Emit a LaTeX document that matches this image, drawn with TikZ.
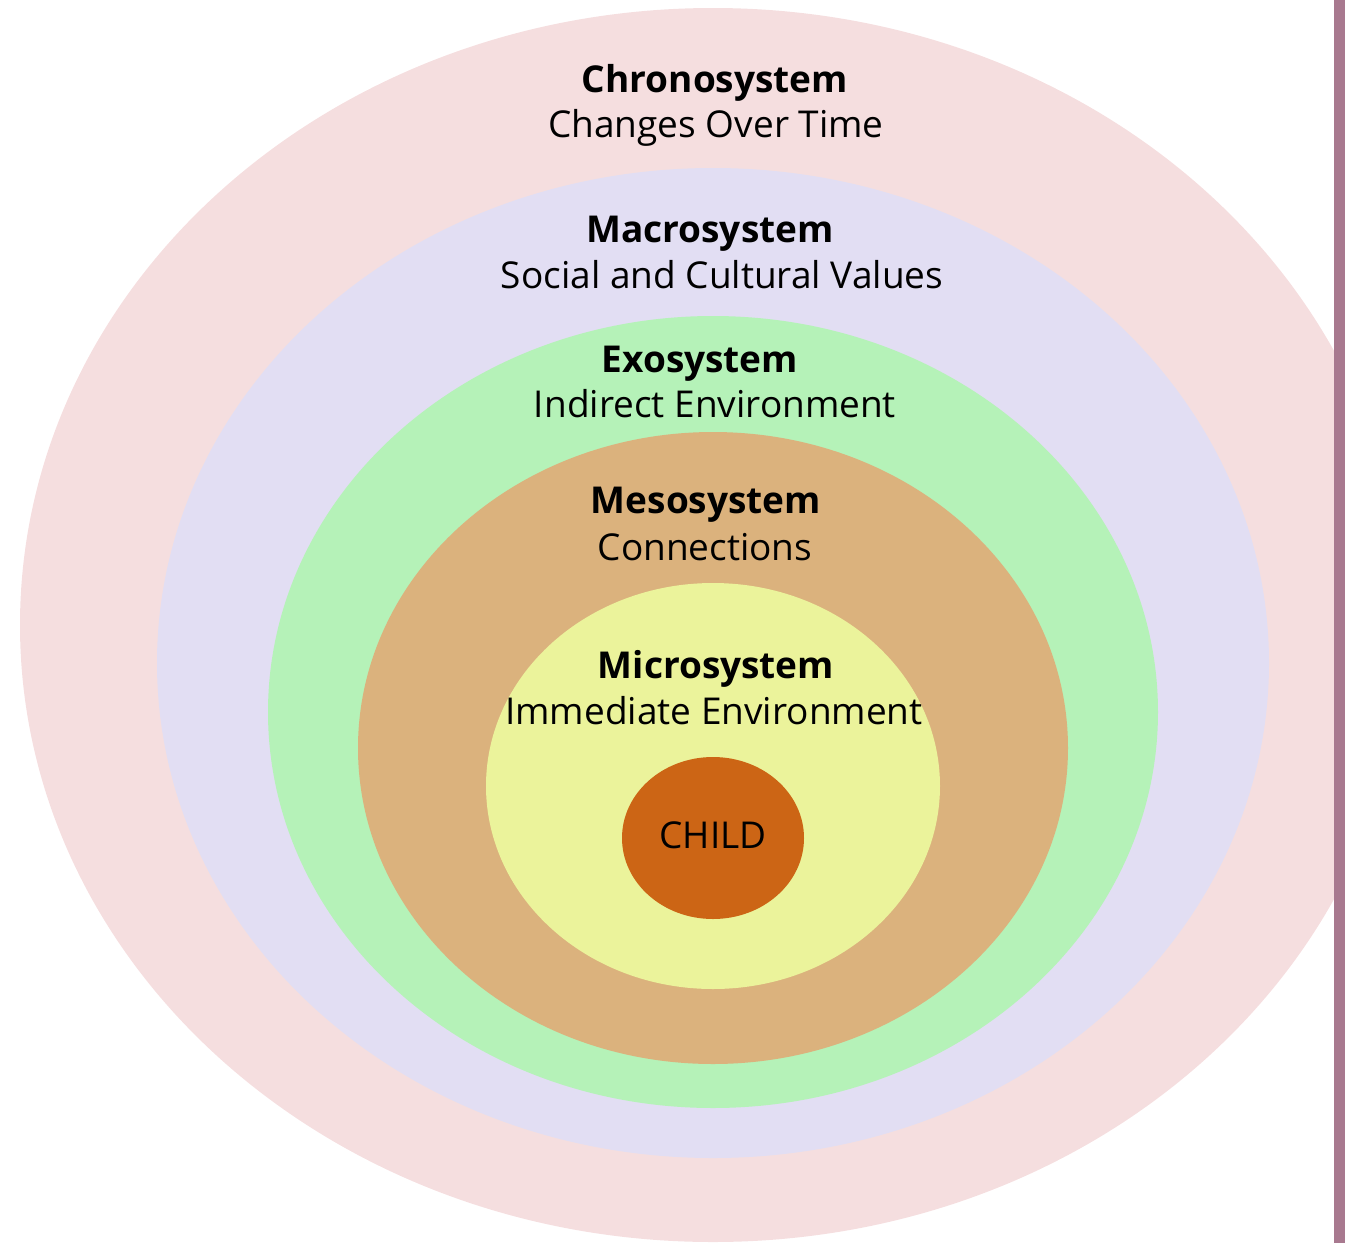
\documentclass[tikz,border=0pt]{standalone}
\usepackage{fontspec}
\setmainfont{Open Sans}
\usetikzlibrary{shapes.geometric}
\definecolor{chronoc}{RGB}{245,222,223}
\definecolor{macroc}{RGB}{226,222,243}
\definecolor{exoc}{RGB}{181,242,184}
\definecolor{mesoc}{RGB}{219,178,125}
\definecolor{microc}{RGB}{235,243,155}
\definecolor{childc}{RGB}{204,101,21}
\definecolor{barc}{RGB}{168,121,143}
\tikzset{ring/.style={ellipse, draw=none, inner sep=0pt},
  sysname/.style={font=\fontsize{37}{42}\selectfont\bfseries, anchor=base, inner sep=0pt},
  sysdesc/.style={font=\fontsize{37}{42}\selectfont, anchor=base, inner sep=0pt}}

\begin{document}
\begin{tikzpicture}[x=1pt, y=-1pt]
  \clip (0,0) rectangle (1345,1243);
  \foreach \n/\c/\cy/\rx/\ry in {chrono/chronoc/625/693/617, macro/macroc/663/556/495,
      exo/exoc/712/445/396, meso/mesoc/748/355/316, micro/microc/786/227/203,
      child/childc/838/91/81} {
    \node[ring, fill=\c, minimum width={2*\rx pt}, minimum height={2*\ry pt}] (\n) at (713,\cy) {};
  }
  \node[sysname] (chronoN) at (715,92) {Chronosystem};
  \node[sysdesc] (chronoD) at (716,137) {Changes Over Time};
  \node[sysname] (macroN) at (710,242) {Macrosystem};
  \node[sysdesc] (macroD) at (722,288) {Social and Cultural Values};
  \node[sysname] (exoN) at (700,372) {Exosystem};
  \node[sysdesc] (exoD) at (715,417) {Indirect Environment};
  \node[sysname] (mesoN) at (706,513) {Mesosystem};
  \node[sysdesc] (mesoD) at (705,560) {Connections};
  \node[sysname] (microN) at (716,678) {Microsystem};
  \node[sysdesc] (microD) at (714,724) {Immediate Environment};
  \node[sysdesc] (childN) at (713,848) {CHILD};
  \fill[barc] (1334,0) rectangle (1345,1243);
\end{tikzpicture}
\end{document}
